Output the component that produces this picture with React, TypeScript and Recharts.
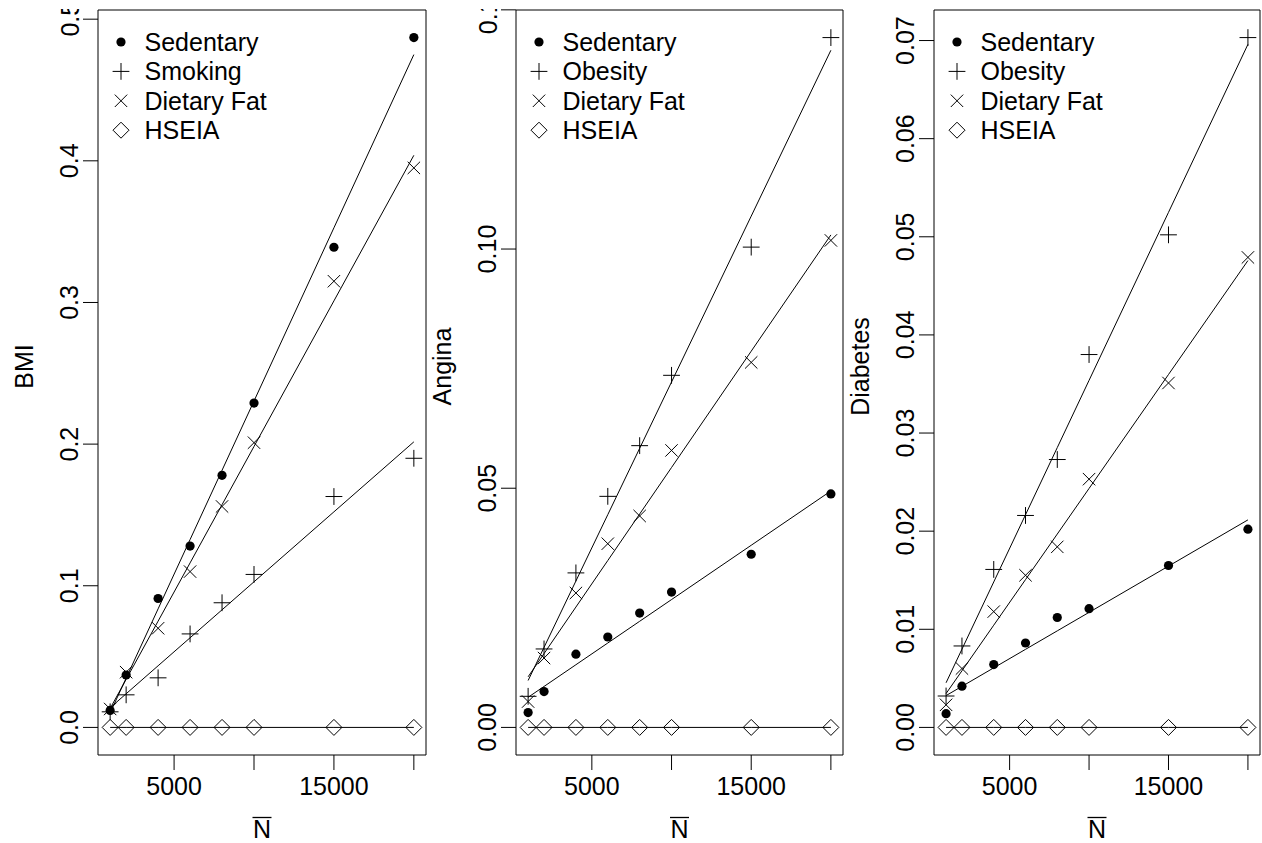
import React from 'react';
import { ScatterChart, Scatter, XAxis, YAxis, ReferenceArea, Legend } from 'recharts';

// N-bar values shared by the three panels
const nBar = [1000, 2000, 4000, 6000, 8000, 10000, 15000, 20000];
const xTicks = [5000, 10000, 15000, 20000];
const xTickLabels = ['5000', '', '15000', ''];

// BMI panel
const bmiSedentary = [0.012, 0.037, 0.091, 0.128, 0.178, 0.229, 0.339, 0.487];
const bmiSmoking = [0.011, 0.023, 0.035, 0.066, 0.088, 0.108, 0.163, 0.19];
const bmiDietaryFat = [0.013, 0.039, 0.07, 0.11, 0.156, 0.201, 0.315, 0.395];
const bmiHseia = [0, 0, 0, 0, 0, 0, 0, 0];
const bmiTicks = [0, 0.1, 0.2, 0.3, 0.4, 0.5];
const bmiTickLabels = ['0.0', '0.1', '0.2', '0.3', '0.4', '0.5'];

// Angina panel
const anginaSedentary = [0.0031, 0.0075, 0.0153, 0.0189, 0.0239, 0.0283, 0.0362, 0.0488];
const anginaObesity = [0.0065, 0.0164, 0.0323, 0.0483, 0.0589, 0.0736, 0.1004, 0.1442];
const anginaDietaryFat = [0.0054, 0.0145, 0.0281, 0.0384, 0.0442, 0.0579, 0.0763, 0.1018];
const anginaHseia = [0, 0, 0, 0, 0, 0, 0, 0];
const anginaTicks = [0, 0.05, 0.1, 0.15];
const anginaTickLabels = ['0.00', '0.05', '0.10', '0.15'];

// Diabetes panel
const diabetesSedentary = [0.0014, 0.0042, 0.0064, 0.0086, 0.0112, 0.0121, 0.0165, 0.0202];
const diabetesObesity = [0.0032, 0.0083, 0.0161, 0.0216, 0.0273, 0.038, 0.0502, 0.0703];
const diabetesDietaryFat = [0.0023, 0.006, 0.0118, 0.0155, 0.0184, 0.0253, 0.0351, 0.0479];
const diabetesHseia = [0, 0, 0, 0, 0, 0, 0, 0];
const diabetesTicks = [0, 0.01, 0.02, 0.03, 0.04, 0.05, 0.06, 0.07];
const diabetesTickLabels = ['0.00', '0.01', '0.02', '0.03', '0.04', '0.05', '0.06', '0.07'];

const FONT = '"Liberation Sans", Arial, Helvetica, sans-serif';
const FS = 25;
const PLOT_LEFT = 98;
const PLOT_TOP = 10;
const PLOT_BOTTOM = 755;
const HEIGHT = 843;

type Kind = 'dot' | 'plus' | 'cross' | 'diamond';

const Mark = ({ kind, cx, cy }: { kind: Kind; cx: number; cy: number }) => {
  if (kind === 'dot') return <circle cx={cx} cy={cy} r={4.6} fill="#000" />;
  if (kind === 'plus') {
    const s = 8.4;
    return <path d={`M${cx - s},${cy}H${cx + s}M${cx},${cy - s}V${cy + s}`} stroke="#000" strokeWidth={1} fill="none" />;
  }
  if (kind === 'cross') {
    const s = 6.2;
    return <path d={`M${cx - s},${cy - s}L${cx + s},${cy + s}M${cx - s},${cy + s}L${cx + s},${cy - s}`} stroke="#000" strokeWidth={1} fill="none" />;
  }
  const s = 8;
  return <path d={`M${cx},${cy - s}L${cx + s},${cy}L${cx},${cy + s}L${cx - s},${cy}Z`} stroke="#000" strokeWidth={1} fill="none" />;
};

const toPoints = (ys: number[]) => nBar.map((x, i) => ({ x, y: ys[i] }));

// least squares line, as lm() in the original
const fitted = (ys: number[]) => {
  const n = nBar.length;
  const mx = nBar.reduce((a, b) => a + b, 0) / n;
  const my = ys.reduce((a, b) => a + b, 0) / n;
  let sxy = 0;
  let sxx = 0;
  nBar.forEach((x, i) => {
    sxy += (x - mx) * (ys[i] - my);
    sxx += (x - mx) * (x - mx);
  });
  const b = sxy / sxx;
  return nBar.map((x) => ({ x, y: my + b * (x - mx) }));
};

const padRange = (lo: number, hi: number): [number, number] => {
  const d = (hi - lo) * 0.04;
  return [lo - d, hi + d];
};

type Series = { name: string; kind: Kind; values: number[] };

const LegendBox = ({ series }: { series: Series[] }) => (
  <svg width={280} height={130} style={{ display: 'block', overflow: 'visible' }}>
    {series.map((s, i) => {
      const cy = 15 + i * 29.4;
      return (
        <g key={s.name}>
          <Mark kind={s.kind} cx={15} cy={cy} />
          <text x={38.5} y={cy + 8.8} fontSize={FS} fontFamily={FONT} fill="#000">
            {s.name}
          </text>
        </g>
      );
    })}
  </svg>
);

const Panel = ({
  left,
  plotWidth,
  title,
  series,
  yTicks,
  yTickLabels,
}: {
  left: number;
  plotWidth: number;
  title: string;
  series: Series[];
  yTicks: number[];
  yTickLabels: string[];
}) => {
  const width = PLOT_LEFT + plotWidth + 6;
  const all = series.flatMap((s) => s.values);
  const yDomain = padRange(Math.min(...all), Math.max(...all));
  const xDomain = padRange(nBar[0], nBar[nBar.length - 1]);
  const midY = (PLOT_TOP + PLOT_BOTTOM) / 2;
  const midX = PLOT_LEFT + plotWidth / 2;

  const YTick = (p: any) => {
    const lbl = yTickLabels[yTicks.indexOf(p.payload.value)] ?? '';
    const x = PLOT_LEFT - 19.5;
    return (
      <text x={x} y={p.y} transform={`rotate(-90 ${x} ${p.y})`} textAnchor="middle" fontSize={FS} fontFamily={FONT} fill="#000">
        {lbl}
      </text>
    );
  };
  const XTick = (p: any) => {
    const lbl = xTickLabels[xTicks.indexOf(p.payload.value)] ?? '';
    return (
      <text x={p.x} y={795} textAnchor="middle" fontSize={FS} fontFamily={FONT} fill="#000">
        {lbl}
      </text>
    );
  };

  return (
    <div style={{ position: 'absolute', left, top: 0, width, height: HEIGHT, clipPath: 'inset(9px 0 0 0)' }}>
      <ScatterChart
        width={width}
        height={HEIGHT}
        margin={{ top: PLOT_TOP, right: width - PLOT_LEFT - plotWidth, bottom: 0, left: 0 }}
      >
        <XAxis
          type="number"
          dataKey="x"
          domain={xDomain}
          ticks={xTicks}
          interval={0}
          allowDataOverflow
          height={HEIGHT - PLOT_BOTTOM}
          tickSize={15}
          axisLine={false}
          tickLine={{ stroke: '#000' }}
          tick={XTick}
          label={
            <g>
              <text x={midX} y={838} textAnchor="middle" fontSize={FS} fontFamily={FONT} fill="#000">
                N
              </text>
              <line x1={midX - 9.5} x2={midX + 9.5} y1={817.5} y2={817.5} stroke="#000" strokeWidth={1.3} />
            </g>
          }
        />
        <YAxis
          type="number"
          dataKey="y"
          domain={yDomain}
          ticks={yTicks}
          interval={0}
          allowDataOverflow
          width={PLOT_LEFT}
          tickSize={15}
          axisLine={false}
          tickLine={{ stroke: '#000' }}
          tick={YTick}
          label={
            <text
              x={PLOT_LEFT - 65}
              y={midY}
              transform={`rotate(-90 ${PLOT_LEFT - 65} ${midY})`}
              textAnchor="middle"
              fontSize={FS}
              fontFamily={FONT}
              fill="#000"
            >
              {title}
            </text>
          }
        />
        <ReferenceArea
          x1={xDomain[0]}
          x2={xDomain[1]}
          y1={yDomain[0]}
          y2={yDomain[1]}
          fill="none"
          stroke="#000"
          strokeWidth={1}
          ifOverflow="visible"
        />
        {series.map((s) => (
          <Scatter
            key={s.name + '-fit'}
            data={fitted(s.values)}
            line={{ stroke: '#000', strokeWidth: 1 }}
            shape={() => <g />}
            legendType="none"
            isAnimationActive={false}
          />
        ))}
        {series.map((s) => (
          <Scatter
            key={s.name}
            name={s.name}
            data={toPoints(s.values)}
            shape={(p: any) => <Mark kind={s.kind} cx={p.cx} cy={p.cy} />}
            isAnimationActive={false}
          />
        ))}
        <Legend
          layout="vertical"
          align="center"
          verticalAlign="middle"
          wrapperStyle={{ top: 27, left: PLOT_LEFT + 7.5, width: 280 }}
          content={() => <LegendBox series={series} />}
        />
      </ScatterChart>
    </div>
  );
};

export default function App() {
  const bmiSeries: Series[] = [
    { name: 'Sedentary', kind: 'dot', values: bmiSedentary },
    { name: 'Smoking', kind: 'plus', values: bmiSmoking },
    { name: 'Dietary Fat', kind: 'cross', values: bmiDietaryFat },
    { name: 'HSEIA', kind: 'diamond', values: bmiHseia },
  ];
  const anginaSeries: Series[] = [
    { name: 'Sedentary', kind: 'dot', values: anginaSedentary },
    { name: 'Obesity', kind: 'plus', values: anginaObesity },
    { name: 'Dietary Fat', kind: 'cross', values: anginaDietaryFat },
    { name: 'HSEIA', kind: 'diamond', values: anginaHseia },
  ];
  const diabetesSeries: Series[] = [
    { name: 'Sedentary', kind: 'dot', values: diabetesSedentary },
    { name: 'Obesity', kind: 'plus', values: diabetesObesity },
    { name: 'Dietary Fat', kind: 'cross', values: diabetesDietaryFat },
    { name: 'HSEIA', kind: 'diamond', values: diabetesHseia },
  ];
  return (
    <div style={{ position: 'absolute', left: 0, top: 0, width: 1262, height: HEIGHT, background: '#fff', fontFamily: FONT }}>
      <Panel left={0} plotWidth={328} title="BMI" series={bmiSeries} yTicks={bmiTicks} yTickLabels={bmiTickLabels} />
      <Panel left={418} plotWidth={327} title="Angina" series={anginaSeries} yTicks={anginaTicks} yTickLabels={anginaTickLabels} />
      <Panel left={836} plotWidth={326} title="Diabetes" series={diabetesSeries} yTicks={diabetesTicks} yTickLabels={diabetesTickLabels} />
    </div>
  );
}
